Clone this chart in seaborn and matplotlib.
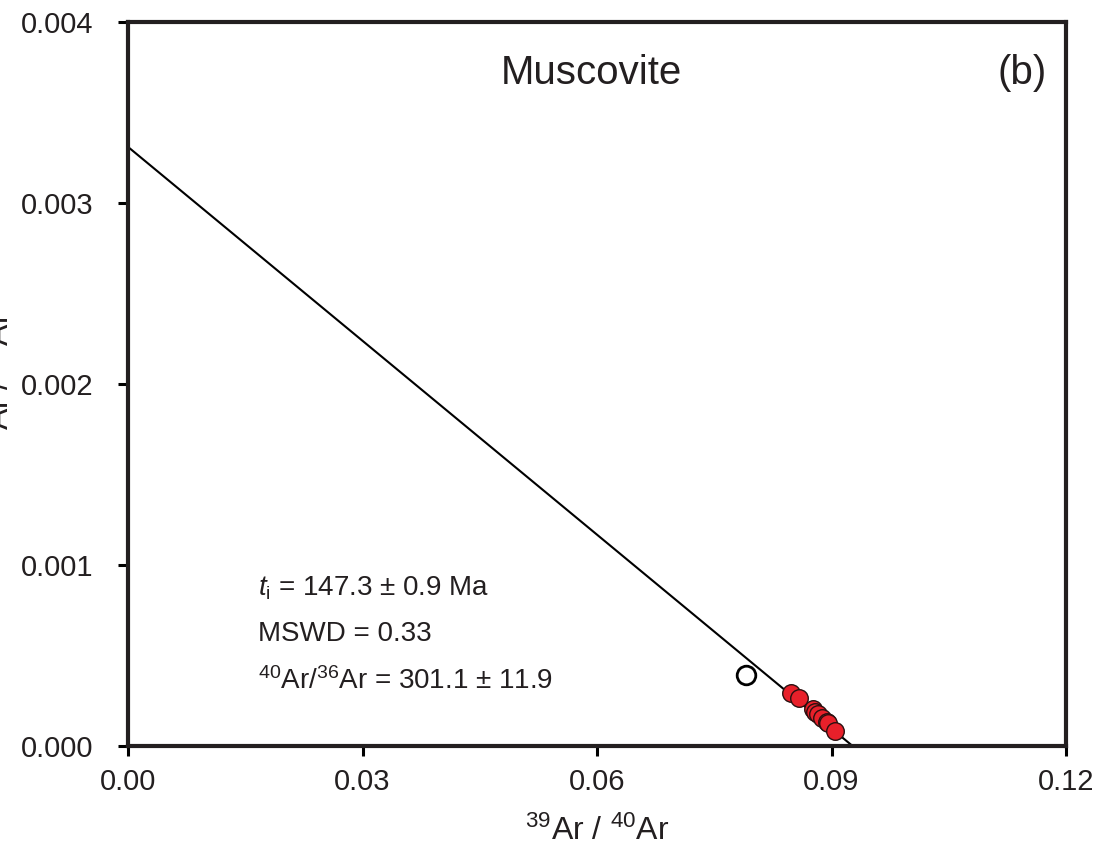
import numpy as np
import pandas as pd
import seaborn as sns
import matplotlib.pyplot as plt

# isochron data (39Ar/40Ar vs 36Ar/40Ar)
x_used = [0.0848, 0.0858, 0.0876, 0.0879, 0.0883, 0.0888, 0.0894, 0.0896, 0.0905]
y_used = [0.000293, 0.000265, 0.000204, 0.000188, 0.000177, 0.000155, 0.000134, 0.000129, 0.000083]
x_excl = [0.0790]
y_excl = [0.000392]

# fitted isochron end points
line_x = [0.0, 0.0927]
line_y = [0.00331, 0.0]

x_ticks = [0.0, 0.03, 0.06, 0.09, 0.12]
y_ticks = [0.0, 0.001, 0.002, 0.003, 0.004]
x_ticklabels = ["0.00", "0.03", "0.06", "0.09", "0.12"]
y_ticklabels = ["0.000", "0.001", "0.002", "0.003", "0.004"]

txt = "#231f20"

sns.set_theme(style="white")
plt.rcParams['font.family'] = ['Liberation Sans', 'DejaVu Sans']
plt.rcParams['mathtext.fontset'] = 'custom'
plt.rcParams['mathtext.rm'] = 'Liberation Sans'
plt.rcParams['mathtext.it'] = 'Liberation Sans:italic'

fig = plt.figure(figsize=(11.01, 8.46), dpi=100)
ax = fig.add_axes([128/1101, 1 - 746/846, (1066-128)/1101, (746-22)/846])

sns.lineplot(x=line_x, y=line_y, ax=ax, color="black", linewidth=1.5)
sns.scatterplot(x=x_used, y=y_used, ax=ax, color="#e8202a", edgecolor="#2a1010",
                linewidth=1.0, s=160, zorder=3)
sns.scatterplot(x=x_excl, y=y_excl, ax=ax, facecolor="white", edgecolor="black",
                linewidth=2.0, s=180, zorder=3)

ax.set_xlim(0, 0.12)
ax.set_ylim(0, 0.004)
ax.set_xticks(x_ticks)
ax.set_yticks(y_ticks)
ax.set_xticklabels(x_ticklabels)
ax.set_yticklabels(y_ticklabels)
ax.tick_params(axis="both", direction="out", width=2.2, labelsize=21,
               color="black", labelcolor=txt, bottom=True, left=True)
ax.tick_params(axis="x", length=7, pad=9)
ax.tick_params(axis="y", length=7, pad=18)

for side in ["left", "bottom", "top", "right"]:
    ax.spines[side].set_visible(True)
    ax.spines[side].set_color(txt)
    ax.spines[side].set_linewidth(3)

ax.set_xlabel(r"$^{39}$Ar / $^{40}$Ar", fontsize=23, color=txt, labelpad=14)
# the reference crops this label at the left edge
ax.set_ylabel(r"$^{36}$Ar / $^{40}$Ar", fontsize=23, color=txt, labelpad=3)

ax.text(0.494, 0.93, "Muscovite", transform=ax.transAxes, ha="center", va="center",
        fontsize=29, color=txt)
ax.text(0.953, 0.93, "(b)", transform=ax.transAxes, ha="center", va="center",
        fontsize=29, color=txt)

ax.text(0.139, 0.218, r"$t_{\rm i}$ = 147.3 ± 0.9 Ma", transform=ax.transAxes,
        ha="left", va="center", fontsize=20, color=txt)
ax.text(0.139, 0.155, "MSWD = 0.33", transform=ax.transAxes,
        ha="left", va="center", fontsize=20, color=txt)
ax.text(0.139, 0.09, r"$^{40}$Ar/$^{36}$Ar = 301.1 ± 11.9", transform=ax.transAxes,
        ha="left", va="center", fontsize=20, color=txt)

fig.savefig("out.png", dpi=100)
